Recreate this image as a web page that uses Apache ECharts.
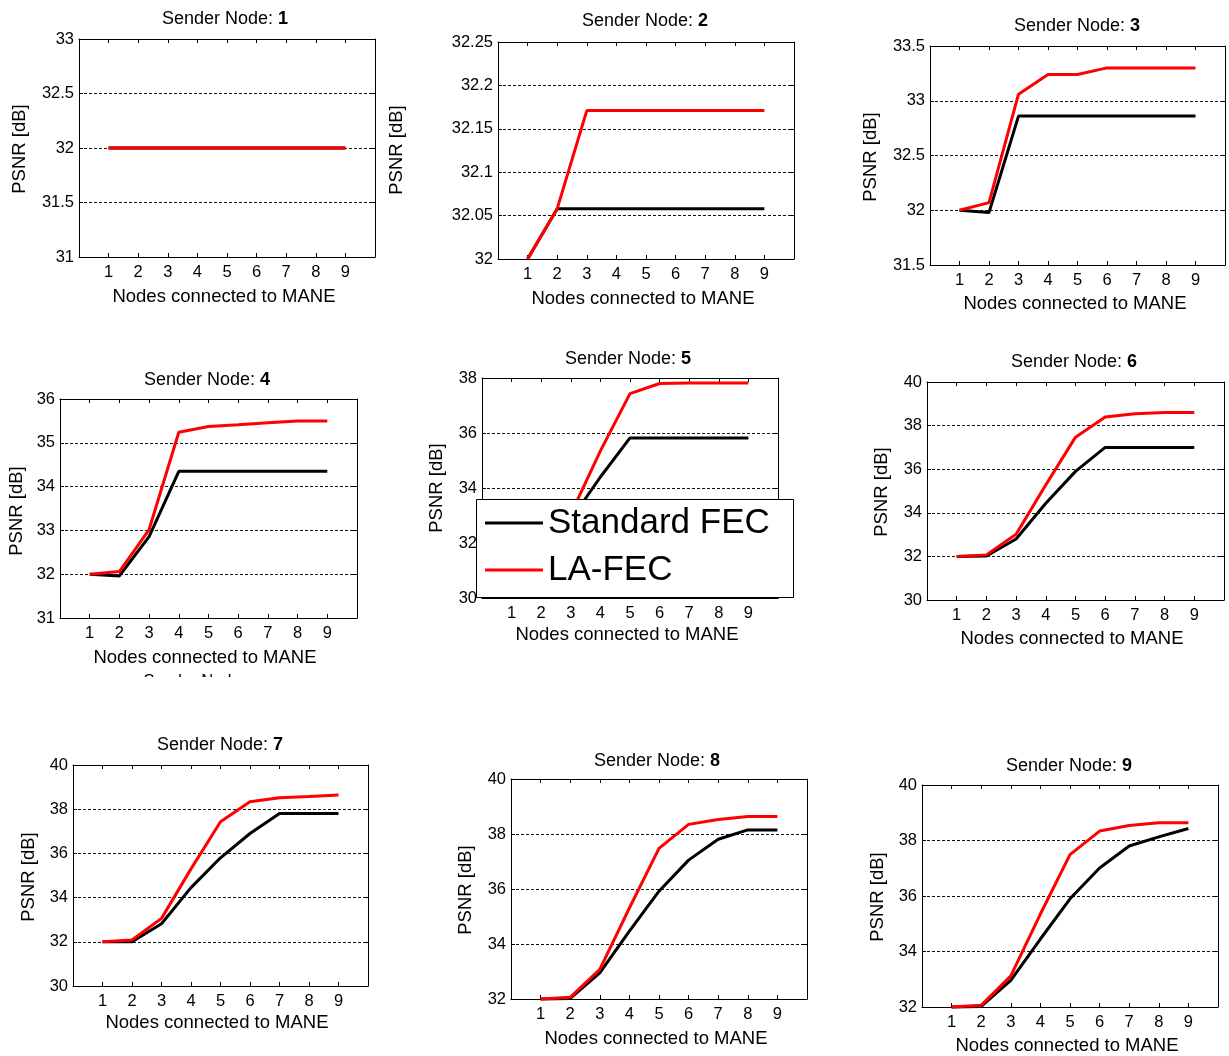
<!DOCTYPE html>
<html>
<head>
<meta charset="utf-8">
<title>PSNR vs. nodes connected to MANE</title>
<style>
  html, body { margin: 0; padding: 0; background: #fff; }
  #chart { width: 1229px; height: 1056px; }
</style>
<script src="https://cdn.jsdelivr.net/npm/echarts@6/dist/echarts.min.js"></script>
</head>
<body>
<div id="chart"></div>
<script>
// ---- data -------------------------------------------------------------
const seriesNames = ['Standard FEC', 'LA-FEC'];
const xTicks = [1, 2, 3, 4, 5, 6, 7, 8, 9];           // nodes connected to MANE
const senderNodes = [1, 2, 3, 4, 5, 6, 7, 8, 9];

// PSNR [dB] per sender node, one value per x tick
const stdFec1 = [32, 32, 32, 32, 32, 32, 32, 32, 32];
const laFec1  = [32, 32, 32, 32, 32, 32, 32, 32, 32];
const stdFec2 = [32.0, 32.058, 32.058, 32.058, 32.058, 32.058, 32.058, 32.058, 32.058];
const laFec2  = [32.0, 32.058, 32.171, 32.171, 32.171, 32.171, 32.171, 32.171, 32.171];
const stdFec3 = [32.0, 31.98, 32.86, 32.86, 32.86, 32.86, 32.86, 32.86, 32.86];
const laFec3  = [32.0, 32.07, 33.06, 33.24, 33.24, 33.3, 33.3, 33.3, 33.3];
const stdFec4 = [32.0, 31.96, 32.86, 34.35, 34.35, 34.35, 34.35, 34.35, 34.35];
const laFec4  = [32.0, 32.06, 33.02, 35.24, 35.37, 35.41, 35.46, 35.5, 35.5];
const stdFec5 = [32.0, 32.0, 32.85, 34.4, 35.82, 35.82, 35.82, 35.82, 35.82];
const laFec5  = [32.0, 32.07, 33.05, 35.35, 37.43, 37.8, 37.82, 37.82, 37.82];
const stdFec6 = [32.0, 32.02, 32.8, 34.44, 35.9, 37.0, 37.0, 37.0, 37.0];
const laFec6  = [32.0, 32.07, 33.02, 35.28, 37.47, 38.39, 38.54, 38.6, 38.6];
const stdFec7 = [32.0, 32.0, 32.82, 34.45, 35.8, 36.9, 37.81, 37.81, 37.81];
const laFec7  = [32.0, 32.08, 33.06, 35.3, 37.43, 38.34, 38.52, 38.57, 38.64];
const stdFec8 = [32.0, 32.02, 32.95, 34.47, 35.92, 37.05, 37.81, 38.15, 38.15];
const laFec8  = [32.0, 32.06, 33.08, 35.31, 37.48, 38.35, 38.53, 38.64, 38.64];
const stdFec9 = [32.0, 32.02, 32.96, 34.45, 35.9, 37.01, 37.8, 38.13, 38.43];
const laFec9  = [32.0, 32.06, 33.12, 35.35, 37.49, 38.34, 38.54, 38.64, 38.64];

// y tick labels per panel
const yTicks1 = [31, 31.5, 32, 32.5, 33];
const yTicks2 = [32, 32.05, 32.1, 32.15, 32.2, 32.25];
const yTicks3 = [31.5, 32, 32.5, 33, 33.5];
const yTicks4 = [31, 32, 33, 34, 35, 36];
const yTicks5 = [30, 32, 34, 36, 38];
const yTicks6 = [30, 32, 34, 36, 38, 40];
const yTicks7 = [30, 32, 34, 36, 38, 40];
const yTicks8 = [32, 34, 36, 38, 40];
const yTicks9 = [32, 34, 36, 38, 40];

const titlePrefix = 'Sender Node: ';
const xAxisTitle = 'Nodes connected to MANE';
const yAxisTitle = 'PSNR [dB]';

const stdFec = [stdFec1, stdFec2, stdFec3, stdFec4, stdFec5, stdFec6, stdFec7, stdFec8, stdFec9];
const laFec  = [laFec1, laFec2, laFec3, laFec4, laFec5, laFec6, laFec7, laFec8, laFec9];
const yTicks = [yTicks1, yTicks2, yTicks3, yTicks4, yTicks5, yTicks6, yTicks7, yTicks8, yTicks9];

// ---- layout (pixels) --------------------------------------------------
// plot box, title centre, x-label centre, y-label centre
const panels = [
  { box: [79, 39, 296, 218],  title: [225, 19],   xl: [224, 297],   yl: [20, 149] },
  { box: [498, 42, 296, 217], title: [645, 21],   xl: [643, 299],   yl: [397, 150] },
  { box: [930, 46, 295, 219], title: [1077, 26],  xl: [1075, 304],  yl: [871, 157] },
  { box: [60, 399, 297, 219], title: [207, 380],  xl: [205, 658],   yl: [17, 511] },
  { box: [482, 378, 296, 220], title: [628, 359], xl: [627, 635],   yl: [437, 488] },
  { box: [927, 382, 297, 218], title: [1074, 362], xl: [1072, 639], yl: [882, 492] },
  { box: [73, 765, 295, 221], title: [220, 745],  xl: [217, 1023],  yl: [29, 877] },
  { box: [511, 779, 296, 220], title: [657, 761], xl: [656, 1039],  yl: [466, 890] },
  { box: [922, 785, 296, 222], title: [1069, 766], xl: [1067, 1046], yl: [878, 897] }
];
// legend frame inside the fifth panel
const legendBox = { x: 476.5, y: 499.5, width: 317, height: 98 };

const FONT = '"Liberation Sans", Arial, Helvetica, sans-serif';
const INK = '#000';

const grid = [], xAxis = [], yAxis = [], series = [], graphic = [];

panels.forEach((p, i) => {
  const [left, top, width, height] = p.box;
  grid.push({ left, top, width, height, containLabel: false, outerBoundsMode: 'none' });

  const tickStyle = { show: true, inside: true, length: 4, lineStyle: { color: INK, width: 1 } };
  const lineStyle = { show: true, onZero: false, lineStyle: { color: INK, width: 1 } };

  // bottom and top x axes
  xAxis.push({
    gridIndex: i, type: 'value', min: 0, max: 10, interval: 1, position: 'bottom',
    axisLine: lineStyle,
    axisTick: Object.assign({ customValues: xTicks }, tickStyle),
    axisLabel: { customValues: xTicks, color: INK, fontFamily: FONT, fontSize: 16.5, margin: 7 },
    splitLine: { show: false }
  });
  xAxis.push({
    gridIndex: i, type: 'value', min: 0, max: 10, interval: 1, position: 'top',
    axisLine: lineStyle,
    axisTick: Object.assign({ customValues: xTicks }, tickStyle),
    axisLabel: { show: false },
    splitLine: { show: false }
  });

  // left and right y axes
  const yt = yTicks[i];
  const yMin = yt[0], yMax = yt[yt.length - 1];
  const step = +(yt[1] - yt[0]).toFixed(6);
  yAxis.push({
    gridIndex: i, type: 'value', min: yMin, max: yMax, interval: step, position: 'left',
    axisLine: lineStyle,
    axisTick: tickStyle,
    axisLabel: { color: INK, fontFamily: FONT, fontSize: 16.5, margin: 5,
                 formatter: v => String(+v.toFixed(4)) },
    splitLine: { show: true, lineStyle: { color: '#111', width: 1, type: [3, 2] } }
  });
  yAxis.push({
    gridIndex: i, type: 'value', min: yMin, max: yMax, interval: step, position: 'right',
    axisLine: lineStyle,
    axisTick: tickStyle,
    axisLabel: { show: false },
    splitLine: { show: false }
  });

  const mk = (name, vals, color) => ({
    name, type: 'line', xAxisIndex: 2 * i, yAxisIndex: 2 * i,
    data: xTicks.map((x, k) => [x, vals[k]]),
    showSymbol: false, symbol: 'none', clip: false, silent: true, animation: false,
    lineStyle: { color, width: 3 }, itemStyle: { color }
  });
  series.push(mk(seriesNames[0], stdFec[i], '#000000'));
  series.push(mk(seriesNames[1], laFec[i], '#ff0000'));

  // panel title with bold node number
  graphic.push({
    type: 'text', x: p.title[0], y: p.title[1],
    style: {
      text: titlePrefix + '{b|' + senderNodes[i] + '}',
      rich: { b: { fontWeight: 'bold', fontFamily: FONT, fontSize: 18, fill: INK } },
      fontFamily: FONT, fontSize: 18, fill: INK, align: 'center', verticalAlign: 'middle'
    }
  });
  graphic.push({
    type: 'text', x: p.xl[0], y: p.xl[1],
    style: { text: xAxisTitle, fontFamily: FONT, fontSize: 18.5, fill: INK,
             align: 'center', verticalAlign: 'middle' }
  });
  graphic.push({
    type: 'text', x: p.yl[0], y: p.yl[1], rotation: Math.PI / 2,
    style: { text: yAxisTitle, fontFamily: FONT, fontSize: 18.5, fill: INK,
             align: 'center', verticalAlign: 'middle' }
  });
});

// partly cut-off heading beneath the fourth panel
graphic.push({
  type: 'text', x: 192, y: 681, z: 1,
  style: { text: 'Sender Node', fontFamily: FONT, fontSize: 16.5, fill: INK,
           align: 'center', verticalAlign: 'middle' }
});
graphic.push({
  type: 'rect', z: 2, shape: { x: 120, y: 677, width: 150, height: 30 },
  style: { fill: '#fff' }
});

// white legend frame drawn over the plot lines, under the legend entries
graphic.push({
  type: 'rect', z: 8,
  shape: legendBox,
  style: { fill: '#fff', stroke: INK, lineWidth: 1 }
});

const chart = echarts.init(document.getElementById('chart'), null, { renderer: 'canvas' });
chart.setOption({
  backgroundColor: '#fff',
  animation: false,
  textStyle: { fontFamily: FONT },
  grid, xAxis, yAxis, series, graphic,
  legend: {
    data: seriesNames,
    orient: 'vertical',
    left: 476, top: 499,
    icon: 'rect', itemWidth: 58, itemHeight: 3, itemGap: 7,
    selectedMode: false,
    textStyle: { color: INK, fontFamily: FONT, fontSize: 35, lineHeight: 40 },
    backgroundColor: 'transparent', borderWidth: 0,
    shadowBlur: 0, shadowColor: 'transparent',
    padding: [4, 18, 7, 9],
    z: 10
  }
});
</script>
</body>
</html>
